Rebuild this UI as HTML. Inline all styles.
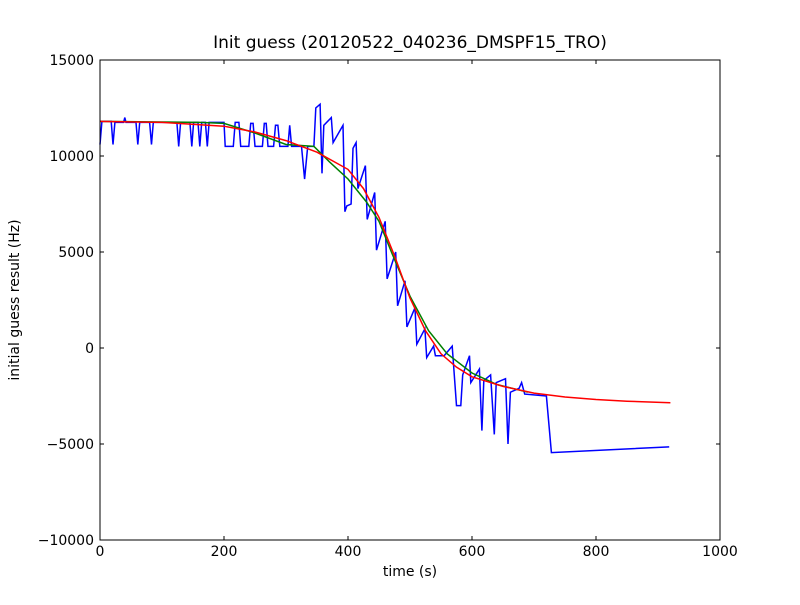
<!DOCTYPE html>
<html><head><meta charset="utf-8"><style>
body{margin:0;background:#fff;}
svg text{font-family:"DejaVu Sans","Liberation Sans",sans-serif;}
</style></head><body>
<svg id="chart" width="800" height="600" xmlns="http://www.w3.org/2000/svg">
<rect width="800" height="600" fill="#fff"/>
<g id="plot"></g>
<rect x="100" y="60" width="620" height="480" fill="none" stroke="#000" stroke-width="1"/>
<g id="ticks"></g>
<text x="410" y="48" font-size="17" text-anchor="middle">Init guess (20120522_040236_DMSPF15_TRO)</text>
<text x="410" y="576" font-size="14" text-anchor="middle">time (s)</text>
<text transform="translate(19,300) rotate(-90)" font-size="14" text-anchor="middle">initial guess result (Hz)</text>
</svg>
<script>
const xTicks=[0,200,400,600,800,1000];
const yTicks=[-10000,-5000,0,5000,10000,15000];
const yTickLabels=["\u221210000","\u22125000","0","5000","10000","15000"];
const blueT=[0,3,18,21,24,38,40,42,58,61,64,80,83,86,124,127,130,145,148,151,158,161,164,170,173,176,200,202,215,218,224,227,240,243,247,250,262,265,268,271,280,283,287,290,303,306,309,325,330,335,345,348,355,358,361,373,376,392,395,398,405,408,413,416,428,431,443,446,460,463,477,480,492,495,508,511,524,527,538,541,555,568,575,582,585,596,598,612,616,619,630,636,639,654,658,662,676,680,685,720,728,918];
const blueV=[10600,11800,11800,10600,11750,11750,12000,11750,11750,10600,11750,11750,10600,11750,11750,10500,11750,11750,10500,11750,11750,10500,11750,11750,10500,11750,11750,10500,10500,11750,11750,10500,10500,11700,11700,10500,10500,11700,11700,10500,10500,11600,11600,10500,10500,11600,10500,10500,8800,10500,10500,12500,12700,9100,11600,12000,10700,11600,7100,7400,7500,10400,10700,8300,9500,6700,8100,5100,6600,3600,5000,2200,3500,1100,2100,200,1000,-500,100,-400,-400,100,-3000,-3000,-1400,-400,-1800,-1100,-4300,-1700,-1400,-4500,-1800,-1600,-5000,-2300,-2100,-1800,-2400,-2500,-5450,-5150];
const greenT=[0,160,200,250,300,345,370,400,430,450,470,500,530,560,600,640,690];
const greenV=[11800,11750,11700,11200,10600,10500,9700,8800,7600,6600,5000,2700,900,-300,-1300,-1900,-2300];
const redT=[0,100,200,250,300,350,400,425,450,475,500,525,550,575,600,650,700,750,800,850,920];
const redV=[11800,11750,11550,11250,10800,10200,9300,8300,6800,4800,2600,900,-300,-1000,-1500,-2000,-2350,-2550,-2680,-2770,-2850];
const X=t=>100+t*620/1000, Y=v=>540-(v+10000)*480/25000;
const NS="http://www.w3.org/2000/svg";
const plot=document.getElementById('plot'), tk=document.getElementById('ticks');
function line(T,V,color,name){
  const p=document.createElementNS(NS,'polyline');
  p.setAttribute('points',T.map((t,i)=>X(t).toFixed(1)+','+Y(V[i]).toFixed(1)).join(' '));
  p.setAttribute('fill','none');p.setAttribute('stroke',color);p.setAttribute('stroke-width','1.5');
  
  
  plot.appendChild(p);
}
line(blueT,blueV,'#0000ff','series-blue');
line(greenT,greenV,'#008000','series-green');
line(redT,redV,'#ff0000','series-red');
xTicks.forEach(t=>{
  const x=X(t);
  const l=document.createElementNS(NS,'path');
  l.setAttribute('d',`M${x},540v-4M${x},60v4`);l.setAttribute('stroke','#000');
  
  
  tk.appendChild(l);
  const s=document.createElementNS(NS,'text');
  s.setAttribute('x',x);s.setAttribute('y',556);s.setAttribute('font-size','14');s.setAttribute('text-anchor','middle');
  s.textContent=t;
  
  
  tk.appendChild(s);
});
yTicks.forEach((v,i)=>{
  const y=Y(v);
  const l=document.createElementNS(NS,'path');
  l.setAttribute('d',`M100,${y}h4M720,${y}h-4`);l.setAttribute('stroke','#000');
  
  
  tk.appendChild(l);
  const s=document.createElementNS(NS,'text');
  s.setAttribute('x',94);s.setAttribute('y',y+5);s.setAttribute('font-size','14');s.setAttribute('text-anchor','end');
  s.textContent=yTickLabels[i];
  
  
  tk.appendChild(s);
});
</script>
</body></html>
